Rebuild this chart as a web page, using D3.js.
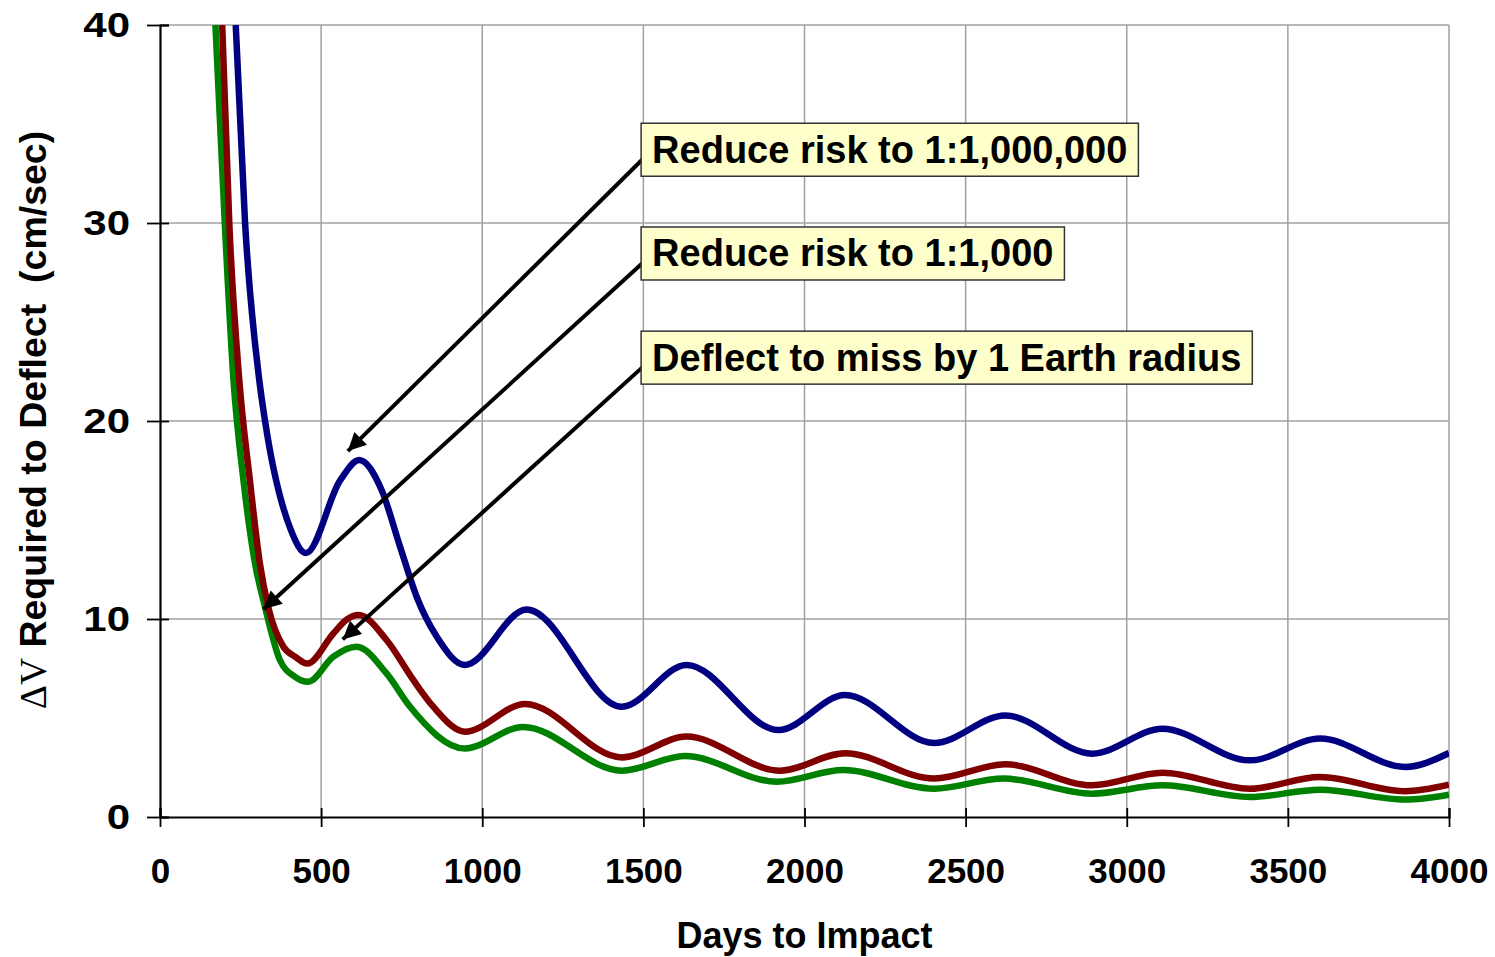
<!DOCTYPE html>
<html>
<head>
<meta charset="utf-8">
<script src="https://cdn.jsdelivr.net/npm/d3@7"></script>
<style>
  body { margin: 0; background: #fff; }
  text { font-family: "Liberation Sans", Arial, sans-serif; font-weight: bold; }
</style>
</head>
<body>
<svg id="svg" width="1495" height="957"></svg>
<script>
// Delta-V required to deflect vs days to impact
let svg = d3.select("#svg");

// series: days, cm/sec
const blueDays = [235, 264, 308, 326, 406, 453, 559, 618, 688, 745, 797, 859, 946, 1138, 1433, 1634, 1919, 2126, 2402, 2623, 2893, 3111, 3382, 3600, 3864, 4000];
const blueDv = [40, 30, 22.07, 20.0, 14.5, 13.33, 17.0, 18.03, 16.5, 13.65, 11.1, 9.1, 7.68, 10.48, 5.57, 7.68, 4.39, 6.16, 3.74, 5.13, 3.2, 4.46, 2.86, 3.96, 2.53, 3.23];

const redDays = [193, 215, 246, 279, 310, 336, 383, 419, 457, 538, 579, 616, 703, 786, 848, 946, 1133, 1433, 1634, 1924, 2126, 2402, 2623, 2893, 3111, 3382, 3600, 3864, 4000];
const redDv = [40, 30, 22.07, 17.0, 12.8, 10.6, 8.6, 8.1, 7.75, 9.27, 9.97, 10.2, 8.94, 6.92, 5.57, 4.31, 5.71, 3.01, 4.06, 2.34, 3.22, 1.94, 2.66, 1.6, 2.24, 1.43, 2.02, 1.3, 1.63];

const greenDays = [172, 201, 228, 259, 295, 326, 372, 419, 460, 538, 610, 703, 776, 946, 1127, 1433, 1629, 1914, 2120, 2402, 2617, 2893, 3111, 3382, 3600, 3864, 4000];
const greenDv = [40, 30, 22.07, 17.0, 12.8, 10.6, 7.93, 7.08, 6.83, 8.1, 8.6, 7.25, 5.57, 3.46, 4.55, 2.34, 3.08, 1.78, 2.37, 1.43, 1.94, 1.18, 1.6, 1.01, 1.38, 0.88, 1.13];

const xTicks = [0, 500, 1000, 1500, 2000, 2500, 3000, 3500, 4000];
const yTicks = [0, 10, 20, 30, 40];

// annotations: label, box anchor (days, cm/sec), arrow tip (days, cm/sec)
const noteLabels = ["Reduce risk to 1:1,000,000", "Reduce risk to 1:1,000", "Deflect to miss by 1 Earth radius"];
const noteAnchor = [[1493, 33.7], [1493, 28.46], [1493, 23.2]];
const noteTip = [[583, 18.48], [321, 10.49], [567, 8.97]];

let x = d3.scaleLinear().domain([0, 4000]).range([160, 1449]);
let y = d3.scaleLinear().domain([0, 40]).range([817, 25]);

// grid
svg.append("g")
  .selectAll("line")
  .data(xTicks.slice(1))
  .enter()
  .append("line")
  .attr("x1", (d) => x(d)).attr("x2", (d) => x(d))
  .attr("y1", y(0)).attr("y2", y(40))
  .style("stroke", "#a0a0a0")
  .style("stroke-width", 1.5);

svg.append("g")
  .selectAll("line")
  .data(yTicks.slice(1))
  .enter()
  .append("line")
  .attr("x1", x(0)).attr("x2", x(4000))
  .attr("y1", (d) => y(d)).attr("y2", (d) => y(d))
  .style("stroke", "#a0a0a0")
  .style("stroke-width", 1.5);

// clip to plot area
svg.append("clipPath").attr("id", "plot")
  .append("rect")
  .attr("x", x(0)).attr("y", y(40))
  .attr("width", x(4000) - x(0)).attr("height", y(0) - y(40));

let line = d3.line()
  .x((d) => x(d[0]))
  .y((d) => y(d[1]))
  .curve(d3.curveMonotoneX);

let series = [
  { days: greenDays, dv: greenDv, color: "#008000" },
  { days: redDays, dv: redDv, color: "#800000" },
  { days: blueDays, dv: blueDv, color: "#000080" },
];

svg.append("g")
  .attr("clip-path", "url(#plot)")
  .selectAll("path")
  .data(series)
  .enter()
  .append("path")
  .attr("d", (s) => line(s.days.map((d, i) => [d, s.dv[i]])))
  .style("fill", "none")
  .style("stroke", (s) => s.color)
  .style("stroke-width", 6.5)
  .style("stroke-linejoin", "round");

// axes: inner minor ticks, then major ticks crossing the axis
let gx = svg.append("g").attr("transform", `translate(0,${y(0)})`);
gx.call(d3.axisBottom(x).tickValues(d3.range(0, 4001, 100)).tickSize(-9).tickFormat(""));
gx.append("g").call(d3.axisBottom(x).tickValues(xTicks).tickSize(10).tickPadding(31).tickFormat(d3.format("d")))
  .call((g) => g.select(".domain").remove());

let gy = svg.append("g").attr("transform", `translate(${x(0)},0)`);
gy.call(d3.axisLeft(y).tickValues(d3.range(0, 41, 2)).tickSize(-9).tickFormat(""));
gy.append("g").call(d3.axisLeft(y).tickValues(yTicks).tickSize(13).tickPadding(17))
  .call((g) => g.select(".domain").remove());

svg.selectAll(".tick line").style("stroke", "#000").style("stroke-width", 1.8);
svg.selectAll(".domain").style("stroke", "#000").style("stroke-width", 2.2);
svg.selectAll(".tick text")
  .style("font-family", '"Liberation Sans", Arial, sans-serif')
  .style("font-weight", "bold")
  .style("font-size", "35px")
  .style("fill", "#000");
// major ticks also cross inward
gx.selectAll("g g.tick line").attr("y1", -9);
gy.selectAll("g g.tick line").attr("x1", 9);
// y labels look horizontally stretched in the original
gy.selectAll("g g.tick text")
  .attr("x", -30 / 1.2)
  .attr("transform", "scale(1.2,1)");

// axis titles
svg.append("text")
  .attr("x", (x(0) + x(4000)) / 2)
  .attr("y", 948)
  .attr("text-anchor", "middle")
  .style("font-size", "36px")
  .text("Days to Impact");

let yt = svg.append("text")
  .attr("transform", `translate(46,420) rotate(-90)`)
  .attr("text-anchor", "middle")
  .style("font-size", "37.5px")
  .style("white-space", "pre");
yt.append("tspan")
  .style("font-family", '"Liberation Serif", "Times New Roman", serif')
  .style("font-weight", "normal")
  .text("ΔV");
yt.append("tspan").text(" Required to Deflect  (cm/sec)");

// arrow heads
svg.append("defs").append("marker")
  .attr("id", "head")
  .attr("viewBox", "0 0 10 10")
  .attr("refX", 10).attr("refY", 5)
  .attr("markerWidth", 5.5).attr("markerHeight", 4.5)
  .attr("markerUnits", "strokeWidth")
  .attr("orient", "auto")
  .append("path")
  .attr("d", "M0,0L10,5L0,10Z")
  .style("fill", "#000");

let notes = noteLabels.map((t, i) => ({ text: t, anchor: noteAnchor[i], tip: noteTip[i] }));

svg.append("g")
  .selectAll("line")
  .data(notes)
  .enter()
  .append("line")
  .attr("x1", (d) => x(d.anchor[0]) + 2)
  .attr("y1", (d) => y(d.anchor[1]) + 9)
  .attr("x2", (d) => x(d.tip[0]))
  .attr("y2", (d) => y(d.tip[1]))
  .style("stroke", "#000")
  .style("stroke-width", 4)
  .attr("marker-end", "url(#head)");

let boxes = svg.append("g")
  .selectAll("g")
  .data(notes)
  .enter()
  .append("g");

boxes.append("rect");
boxes.append("text")
  .attr("x", (d) => x(d.anchor[0]) + 11)
  .attr("y", (d) => y(d.anchor[1]) + 13)
  .style("font-size", "38px")
  .text((d) => d.text);

boxes.each(function (d) {
  let bb = d3.select(this).select("text").node().getBBox();
  d3.select(this).select("rect")
    .attr("x", x(d.anchor[0]))
    .attr("y", y(d.anchor[1]) - 26.5)
    .attr("width", bb.width + 22)
    .attr("height", 53)
    .style("fill", "#ffffcc")
    .style("stroke", "#333")
    .style("stroke-width", 1.5);
});
</script>
</body>
</html>
